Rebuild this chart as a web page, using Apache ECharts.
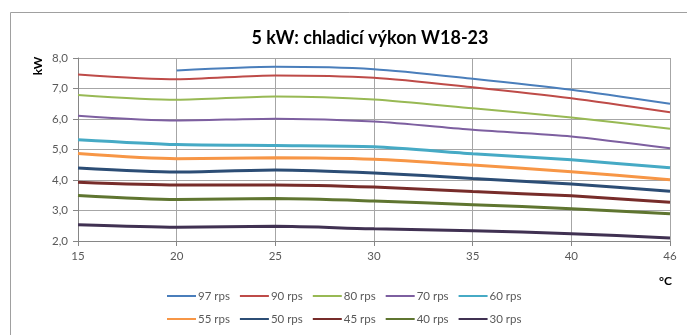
<!DOCTYPE html>
<html><head><meta charset="utf-8">
<script src="https://cdn.jsdelivr.net/npm/echarts@6/dist/echarts.min.js"></script>
<style>html,body{margin:0;padding:0;background:#fff}#c{width:687px;height:335px}</style>
</head><body><div id="c"></div>
<script>
const categories = ['15','20','25','30','35','40','46'];
const seriesNames = ['97 rps','90 rps','80 rps','70 rps','60 rps','55 rps','50 rps','45 rps','40 rps','30 rps'];
const s97 = [null, 7.59, 7.71, 7.63, 7.32, 6.96, 6.50];
const s90 = [7.46, 7.30, 7.43, 7.35, 7.04, 6.68, 6.22];
const s80 = [6.79, 6.63, 6.74, 6.64, 6.35, 6.05, 5.68];
const s70 = [6.11, 5.95, 6.01, 5.92, 5.65, 5.43, 5.04];
const s60 = [5.32, 5.16, 5.13, 5.09, 4.86, 4.66, 4.40];
const s55 = [4.87, 4.70, 4.73, 4.68, 4.49, 4.27, 4.01];
const s50 = [4.39, 4.26, 4.33, 4.23, 4.05, 3.87, 3.63];
const s45 = [3.93, 3.84, 3.84, 3.77, 3.62, 3.48, 3.27];
const s40 = [3.49, 3.36, 3.39, 3.31, 3.19, 3.06, 2.89];
const s30 = [2.53, 2.45, 2.48, 2.40, 2.34, 2.24, 2.10];
const values = [s97,s90,s80,s70,s60,s55,s50,s45,s40,s30];
const colors = ['#4a7ebb','#be4b48','#98b954','#7d5fa0','#46aac5','#f79646','#2c4d75','#772c2a','#5f7530','#403152'];
const widths = [2,2,2,2,3,3,3,3,3,3];
const F = 'Lato, "Open Sans", sans-serif';
const chart = echarts.init(document.getElementById('c'));
const legendBase = {left:161, itemWidth:29, itemHeight:10, itemGap:9,
  itemStyle:{opacity:0},
  textStyle:{fontFamily:F,fontSize:11.5,color:'#595959', padding:[0,0,0,-3]}};
chart.setOption({
  animation:false,
  color: colors,
  title:{text:'5 kW: chladicí výkon W18-23', left:365, textAlign:'center', top:24,
    textStyle:{fontFamily:F, fontSize:18, fontWeight:'bold', color:'#000'}},
  graphic:[{type:'rect', shape:{x:10.5,y:12.5,width:700,height:400}, style:{fill:'none', stroke:'#a0a0a0', lineWidth:1}},
    {type:'text', left:659, top:275, style:{text:'°C', font:'bold 12px '+F, fill:'#000'}},
    {type:'text', x:38, y:66, rotation:Math.PI/2, style:{text:'kW', font:'bold 12px '+F, fill:'#000', align:'center', verticalAlign:'middle'}}],
  grid:{left:78, right:17, top:58, bottom:94},
  legend:[
    Object.assign({data:seriesNames.slice(0,5), top:285}, legendBase),
    Object.assign({data:seriesNames.slice(5), top:308}, legendBase)
  ],
  xAxis:{type:'category', data:categories, boundaryGap:false,
    axisLine:{lineStyle:{color:'#868686'}}, axisTick:{show:true, length:5, lineStyle:{color:'#868686'}},
    axisLabel:{fontFamily:F, fontSize:11.5, color:'#595959', margin:9},
    splitLine:{show:true, lineStyle:{color:'#a6a6a6', width:1}}},
  yAxis:{type:'value', min:2, max:8, interval:1,
    axisLine:{show:true, lineStyle:{color:'#868686'}}, axisTick:{show:true, length:5, lineStyle:{color:'#868686'}},
    axisLabel:{fontFamily:F, fontSize:11.5, color:'#595959', margin:10, formatter:v=>v.toFixed(1).replace('.',',')},
    splitLine:{show:true, lineStyle:{color:'#a6a6a6', width:1}}},
  series: seriesNames.map((n,i)=>({name:n, type:'line', data:values[i], symbol:'none', smooth:0.25,
    lineStyle:{width:widths[i], color:colors[i]}, itemStyle:{color:colors[i]}, z:20-i}))
});
</script></body></html>
